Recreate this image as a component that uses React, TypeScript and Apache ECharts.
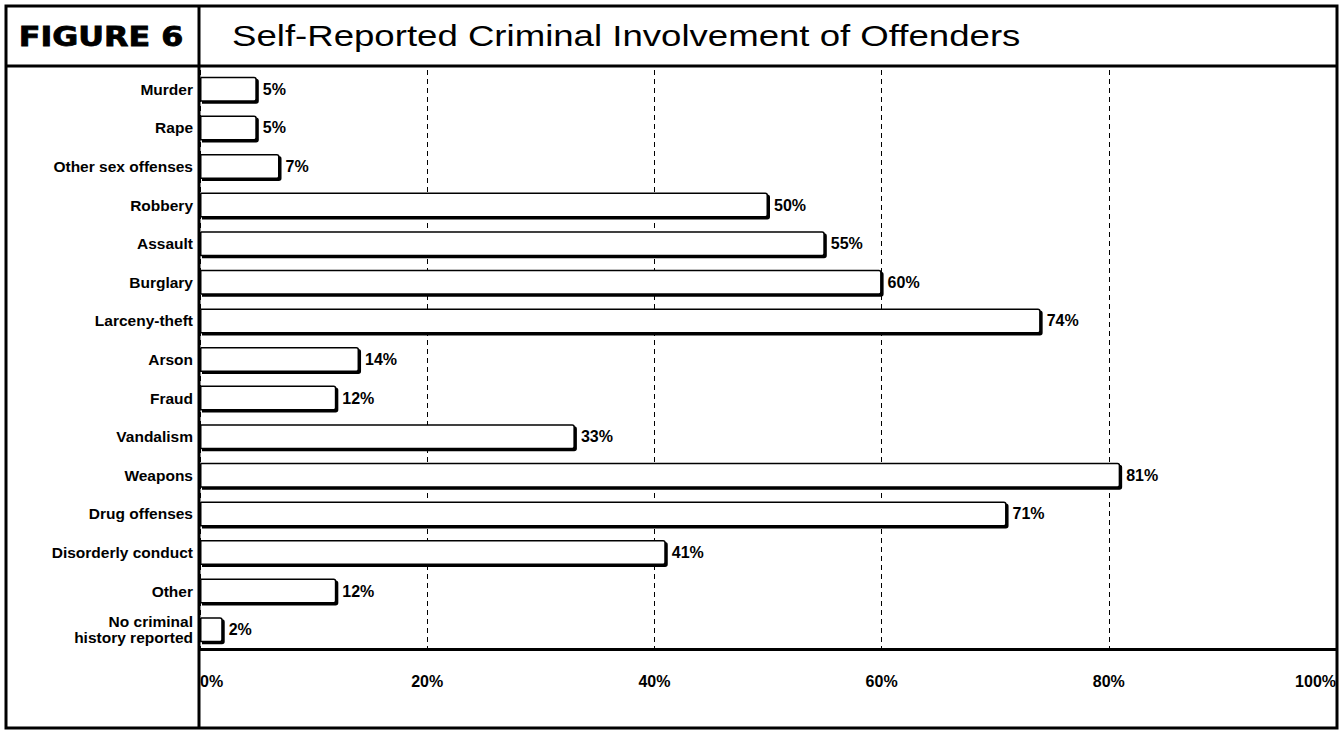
import React, { useEffect, useRef } from "react";
import * as echarts from "echarts";

const categories: string[] = [
  "Murder",
  "Rape",
  "Other sex offenses",
  "Robbery",
  "Assault",
  "Burglary",
  "Larceny-theft",
  "Arson",
  "Fraud",
  "Vandalism",
  "Weapons",
  "Drug offenses",
  "Disorderly conduct",
  "Other",
  "No criminal\nhistory reported",
];

const values: number[] = [5, 5, 7, 50, 55, 60, 74, 14, 12, 33, 81, 71, 41, 12, 2];

const xTicks: number[] = [0, 20, 40, 60, 80, 100];

const figureLabel = "FIGURE 6";
const titleText = "Self-Reported Criminal Involvement of Offenders";

export default function App() {
  const ref = useRef<HTMLDivElement>(null);

  useEffect(() => {
    document.body.style.margin = "0";
    if (!ref.current) return;
    const chart = echarts.init(ref.current, null, { renderer: "svg" });
    const FONT = "'Liberation Sans', Arial, Helvetica, sans-serif";
    const option: any = {
      animation: false,
      backgroundColor: "#fff",
      grid: { left: 200, top: 70, width: 1136, height: 579, containLabel: false },
      xAxis: {
        type: "value",
        min: xTicks[0],
        max: xTicks[xTicks.length - 1],
        interval: 20,
        axisLine: { show: true, onZero: false, lineStyle: { color: "#000", width: 3 } },
        axisTick: { show: false },
        splitLine: { show: true, lineStyle: { color: "#000", width: 1, type: [5, 4] } },
        axisLabel: {
          formatter: "{value}%",
          color: "#000",
          fontFamily: FONT,
          fontWeight: "bold",
          fontSize: 16,
          margin: 24,
          alignMinLabel: "left",
          alignMaxLabel: "right",
        },
      },
      yAxis: {
        type: "category",
        data: categories,
        inverse: true,
        axisLine: { show: false },
        axisTick: { show: false },
        splitLine: { show: false },
        axisLabel: {
          color: "#000",
          fontFamily: FONT,
          fontWeight: "bold",
          fontSize: 15.5,
          lineHeight: 16,
          margin: 7,
          align: "right",
        },
      },
      series: [
        {
          type: "bar",
          data: values,
          barWidth: 25,
          itemStyle: {
            color: "#fff",
            borderColor: "#000",
            borderWidth: 1.5,
            borderRadius: [0, 2, 2, 0],
            shadowColor: "#000",
            shadowOffsetX: 2,
            shadowOffsetY: 2,
            shadowBlur: 0,
          },
          label: {
            show: true,
            position: "right",
            distance: 6,
            formatter: "{c}%",
            color: "#000",
            fontFamily: FONT,
            fontWeight: "bold",
            fontSize: 16,
          },
        },
      ],
      graphic: [
        {
          type: "rect",
          shape: { x: 6, y: 6, width: 1331, height: 722 },
          style: { fill: "none", stroke: "#000", lineWidth: 3 },
          silent: true,
          z: 10,
        },
        {
          type: "line",
          shape: { x1: 6, y1: 66, x2: 1337, y2: 66 },
          style: { stroke: "#000", lineWidth: 3 },
          silent: true,
          z: 10,
        },
        {
          type: "line",
          shape: { x1: 199, y1: 6, x2: 199, y2: 728 },
          style: { stroke: "#000", lineWidth: 3 },
          silent: true,
          z: 10,
        },
        {
          type: "text",
          x: 101,
          y: 37,
          scaleX: 1.22,
          style: {
            text: figureLabel,
            fill: "#000",
            stroke: "#000",
            lineWidth: 0.8,
            font: "900 26px 'DejaVu Sans', sans-serif",
            align: "center",
            verticalAlign: "middle",
          },
          silent: true,
          z: 10,
        },
        {
          type: "text",
          x: 232,
          y: 36,
          scaleX: 1.22,
          style: {
            text: titleText,
            fill: "#000",
            font: "30px 'Liberation Sans', Arial, sans-serif",
            align: "left",
            verticalAlign: "middle",
          },
          silent: true,
          z: 10,
        },
      ],
    };
    chart.setOption(option);
    return () => chart.dispose();
  }, []);

  return (
    <div
      ref={ref}
      style={{ position: "fixed", left: 0, top: 0, width: 1340, height: 738, background: "#fff" }}
    />
  );
}
